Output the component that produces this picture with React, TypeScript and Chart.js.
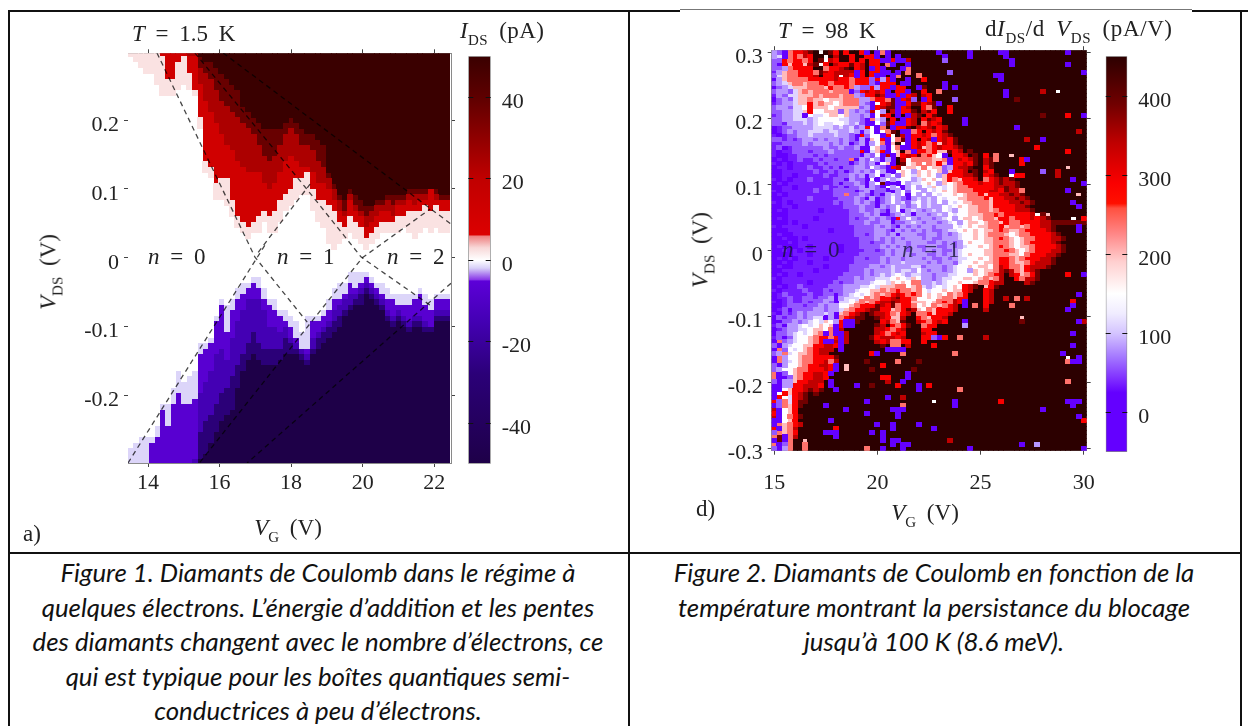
import React, { useEffect, useRef } from "react";
import { Chart, registerables } from "chart.js";

Chart.register(...registerables);

const SERIF = '"Liberation Serif", serif';
const INK = "#222222";
const FRAME = "#8a8a8a";

/* ---------- Figure 1: I_DS (pA), T = 1.5 K ---------- */
const leftVgStart = 13.5;
const leftVgStep = 0.15;
const leftVdsTop = 0.296;
const leftVdsStep = 0.008;
const leftRows = 75;
const leftXTicks = [14, 16, 18, 20, 22];
const leftYTicks = [-0.2, -0.1, 0, 0.1, 0.2];
const leftBarTicks = [-40, -20, 0, 20, 40];
const leftBarRange = [-50, 50];

// rows counted from the top, per gate-voltage column, where each current level ends
const upperLevels = [50, 38, 24, 12, 2.2];
const upperEdges = [
  [0,0,0,0,1],[0,0,0,0,2],[0,0,0,0,3],[0,0,0,0,4],[0,0,0,0,4],[0,0,0,0,6],[0,0,0,1,8],[0,0,0,5,8],[0,0,0,5,8],[0,0,0,2,7],
  [0,0,0,1,6],[0,0,1,4,7],[0,0,1,7,8],[1,3,6,12,14],[2,4,9,20,22],[2,5,11,21,23],[3,7,13,24,27],[4,9,15,23,27],[5,10,17,23,28],[6,11,18,27,30],
  [7,12,20,30,32],[10,13,21,31,33],[11,14,22,32,34],[12,15,22,31,33],[13,17,22,30,33],[14,19,24,29,31],[14,20,25,30,33],[14,19,24,29,33],[14,17,22,27,31],[13,15,20,26,29],
  [12,14,19,25,28],[13,15,20,23,27],[14,17,21,23,26],[15,17,21,22,26],[15,18,22,25,29],[16,20,24,27,31],[17,21,24,27,32],[22,23,25,28,35],[24,25,27,29,36],[26,27,29,31,35],
  [27,29,30,32,34],[25,26,27,30,33],[26,28,29,31,34],[27,29,30,32,35],[28,30,32,34,36],[28,29,31,33,35],[27,28,30,32,34],[27,28,29,31,33],[26,27,29,31,33],[26,28,30,31,33],
  [26,27,28,30,33],[26,27,28,30,32],[25,26,27,29,33],[25,26,28,29,34],[25,26,27,29,33],[25,26,27,28,32],[25,25,25,29,33],[25,26,27,28,32],[26,27,27,29,33],[26,27,27,29,33],
];
// rows counted from the bottom, per column
const lowerLevels = [-50, -28, -15, -7, -1.8];
const lowerEdges = [
  [0,0,0,0,3],[0,0,0,0,4],[0,0,0,0,5],[0,0,0,0,5],[0,0,0,4,5],[0,0,0,5,7],[0,0,0,10,11],[0,0,0,7,11],[0,0,0,11,14],[0,0,0,13,17],
  [0,0,0,11,15],[0,0,0,11,16],[0,0,1,12,17],[1,6,13,20,22],[2,8,15,21,22],[4,9,17,22,23],[6,11,20,26,27],[8,13,21,29,30],[9,14,19,24,29],[10,16,23,28,30],
  [14,18,26,30,32],[17,20,28,31,33],[19,22,30,32,33],[20,24,30,33,34],[19,22,30,32,34],[18,21,28,30,32],[18,21,25,29,30],[18,21,25,28,30],[19,21,24,27,28],[20,23,25,26,28],
  [20,22,23,25,27],[20,21,22,23,26],[19,20,21,21,24],[18,19,20,21,27],[20,21,23,26,27],[21,23,24,26,27],[22,24,25,27,28],[23,25,26,28,30],[24,26,28,30,32],[25,27,29,30,33],
  [27,28,30,31,33],[28,29,31,33,35],[29,30,31,32,35],[29,31,32,33,35],[31,32,33,34,35],[30,31,32,33,34],[29,30,31,32,33],[28,29,30,31,33],[26,27,28,30,32],[25,26,27,30,31],
  [26,27,28,29,31],[25,26,27,29,31],[24,25,26,29,31],[25,26,27,30,31],[25,26,27,31,32],[24,25,26,29,31],[24,25,25,28,30],[26,27,28,30,31],[26,27,28,30,31],[26,27,28,30,31],
];
const leftStops: [number, string][] = [
  [-50, "#1e0048"], [-28, "#2b0078"], [-15, "#4400b4"], [-5.2, "#5c00d8"], [-4.8, "#8a3ae8"], [-2, "#d8d0f8"],
  [0, "#ffffff"], [3, "#f8d8d8"], [5.8, "#ee8080"], [6.2, "#dc0000"], [20, "#c00000"], [40, "#5e0000"], [50, "#3a0000"],
];
// coulomb-diamond guide lines: [Vg, Vds, Vg, Vds, ...]
const diamondLines = [
  [14.25, 0.2975, 16.99, 0.001, 18.45, -0.0935],
  [13.44, -0.298, 17.3, 0.021],
  [17.08, 0.008, 18.53, 0.107],
  [15.31, 0.2975, 18.42, 0.101, 19.96, 0.001, 21.89, -0.069],
  [16.1, 0.2975, 22.47, 0.049],
  [22.47, -0.037, 16.77, -0.298],
  [15.45, -0.297, 19.99, 0, 21.89, 0.071],
];

/* ---------- Figure 2: dI/dV (pA/V), T = 98 K ---------- */
const rightVgStart = 15;
const rightVgStep = 0.25;
const rightVdsTop = 0.3;
const rightVdsStep = 0.006;
const rightXTicks = [15, 20, 25, 30];
const rightYTicks = [-0.3, -0.2, -0.1, 0, 0.1, 0.2, 0.3];
const rightBarTicks = [0, 100, 200, 300, 400];
const rightBarRange = [-50, 450];
const rightStops: [number, string][] = [
  [-50, "#6400ff"], [25, "#6400ff"], [40, "#7c28ff"], [70, "#a478ff"], [100, "#d4c4ff"], [125, "#f0ecff"], [150, "#ffffff"],
  [190, "#ffd0d0"], [225, "#ff8888"], [258, "#ff5040"], [264, "#ff1000"], [290, "#fa0000"], [340, "#c00000"], [390, "#700000"], [450, "#2c0000"],
];
const rightCellLevels: Record<string, number> = { P: 0, a: 35, b: 58, c: 82, e: 110, w: 148, p: 200, s: 238, r: 290, R: 340, d: 390, D: 450 };
const rightSegmentWidths = [13, 16, 12, 20];
// each row: columns 0-12, 13-28, 29-40, 41-60; a short segment repeats its last cell
const rightRows = [
  "cbPsrrRdDwDdr DrDDrPDPsPDDDDDD D D",
  "cePsrsRrDDwDR DDrDDrrPDPDPDDDD D D",
  "bbrsrrsrDdwRr DDrDrDrrPPrPPDDD D D",
  "bPrprrpRdwrDR rrdrRDrrDsPDDPDD D D",
  "bbcsrrrrDDsrr RdDrRDPrPDDDPsDD D D",
  "acpssrrrsdRrR RRRPrDrrPPDPDsDD D D",
  "bepssrrrRDrrR wRrPrDrPPDPsDDDs D D",
  "PcpssssrrrrrR rrsrrrbrcrPDDPDD rD D",
  "bcepsspssrrsr rrsrrrbPrrrDPPDD D D",
  "Pbcepppsssprs srscbbrcrrPrrDDP dD D",
  "bccbepspsssps ssPbrRrRrPDrrPDD rD D",
  "acbeepppspsss psscbrrdRPPrPrRD RrD D",
  "Pbcbeppsppwpp psssccsrrsdPrRdD PrD D",
  "abccepprpsppw pssscbPwrRdPPrdd rRdD D",
  "bccbeewrpppwp ppppbcPrRddPrRDD rsdD D",
  "bbcceeprwwppp bpcbcbRwcDRPrrdD RdrD D",
  "abcceePweewpp wpccbcPwRrDPDPRd DrdD D",
  "bbcceeecewwww eeccbPsecDrDPrRD rdRrD D",
  "bbaccceceweew wecebPPwbdrPPrRD sRrRD D",
  "Pabbcccceeeec ecebcrwPsDPrrdDR rRdrRD D",
  "Pabcbcceeecee ccecPcwPwsdDPPsr DrRrdD D",
  "aPabbccecccce ccbPrbwwPrwDRPrr RrsrRdD D",
  "bbababccbcbcc bcbPcPpwrPwsdPrD rRPrRrdD D",
  "aabbbbcbcccbc bcPbcPcwsPpDwPrR rsrpRrdD D",
  "abPabbbbbbcbb cbbcPPwpbPwsPPrR psrRrrRdD D",
  "aPaabbbabbbcb bbbbrPeprPwpDsPr rsrppdrRDdDD D",
  "aPPaabbbababb bbbbPcbwPRPprRrd srpwPDrrRDdD rDD",
  "PaPaabaababba bbsPcbwcPcPDRwss ssppsPrRrRdD RdD",
  "aPaPaaaaababb bbPbcbcPwpPDdwps wsprpPrrRrdD RdD",
  "PaaPaaabaabab PbbccbwcbPrRwppw swppbcrRRdDD rdD",
  "PPaaaaaabaaba bPbcbcbwcPPwpwcp wpwpbprrRDdD RrD",
  "PPaaPaaaaabaa bbcbcPcwPcwbpwep wpwcprrrRRdD rRdD",
  "aPaPaaabaaaab bPcbbPwPcwcewwce pwpwprsprrRD srRdRdD",
  "PaPaaaaaaaaab PbbcbPcwdPPPwcee wpwcpwpsrrrR rrRdRRdD",
  "PPaaPaaaaabaa bPbbcPcbPwcwPcwc wepwewpssrrr rrRRdRdD",
  "aPaaaaaabaaab bbbPbcPbbPPcwbww cwewpwpsssrr rRRrdRRdD",
  "PaPaaaaaaaaab bsbbcbPbPcecwPwc wcwewwpwpssr prrRRdRdD",
  "PPaaaaabaaaaa bbbcbPcPbcwcbPce cecwewwppsss rprrRRdRdD",
  "aPaPaaaaaaaab abbcbcbPbcwcebew cecwcwewppss sprrrRRdRdD",
  "PPaaPaaaaaaaa abbbcbbPcbcwcbcw ceccwewpwpps sprrrrRRdD",
  "PaPaaaaaaPaaa aabbcbbcbPcwPcec bcecwecwwpps spsrrrRRRdD",
  "PPPaaaaaaaaaa aabbbcbcPPbcecPc cbcecwewwppp ssrsrrrrrRRdD",
  "PaPaaaaaPaaaa aababbcbcbPrcwcb ccbcewcwppwp ssprrsrrrRrRdD",
  "PPPaPaaaaaaaa aabbbcbbccPbbcec bccbcewcwppw pssprssrrrrRRd",
  "aPaaaaPaaaaaa aaabbbbcbcbPcbcb ccbcccwewpwp pssrpsspsrrRRdD",
  "PPPaaaaaaaaPa aaabbbbccbPcbcbc bcbbceewpwpw ppsrsppsrrrrRdD",
  "PaPPaaaaaaaaa aaabbabccbcPcccb bccbcbcewwpw pssspwpssrrrrRdD",
  "PPaPPaPaaaaaa aaaabbbcbcbcbccc bcbbcccewwpw ppsrspwpssrrrRRdD",
  "PPPaPaaaaaaaa aaaabbabbcbccbcc cbbcbcbcwpww ppssspwpsrrrrRdD",
  "PaPPPaaPaaaaa Paaabbbbcbcbcbcb bccbbcbcewwp wpsrspwppsrrrrRdD",
  "PPaPaPaaaaaaa Paaaabbabcbccbcc bcbcbbcewwww ppssrspwpsrrrRRdD",
  "PPPPaaaPaaaaa aaaabbbbbcbcccbc cbbcbccewpww ppsssppwsrrrRRdD",
  "PaPaPaaaaaPaa aaabbabbcbccbccc bcbbcbceewwp wpsrrspsrrrRRdD",
  "PPaPaaaPaaaaa aaabbbbbcbcceccc cbcbccbewwpw ppsrrsppsrRRRdD",
  "PaPPaaaaaaPaa aabbbbccbcecccee bcccbcewwpwp pwsRrssprRRRdD",
  "PPaaaaaaPaaaa aabbbcbccceceecw cbccbcewwcpw ppsRdRsprRdD",
  "PaPaaPaaaaaaa abbbbcbcecewecee ccbcceewwwpw psrRDRrpsrdD",
  "aPaaaaaaaaaaa bbbcbcceeewpwepw ccbceewwppwp spsRDDrsRRdD",
  "PPaaaaaPaaaab abbcccewwepwpwss ccecewwpwwps srRRDDDDRdD",
  "PaPaabaaaaabb bccceewepppsswps ecewewpwrRdD prdD",
  "aPaaaabaaabab bccewwppspsrssps wewwpwpprRDD rRD",
  "PabaaaabaabbP bcewewpspsrRrsrs wpwpwspsrDDD rRD",
  "PaabaabbabbcP ceeewspsrrRdrrsw wpwpssprrDDD rRD",
  "aPabaababbcbc eewpspsrRRdRrrpp pwpsrsRrDDDD rRD",
  "PPabbbabbcbcc wwpsrrrdRrdsrrsw pwspsrRDDDDD rD",
  "PabPbbbbccbcc epsrrRddrrpsrdRp wsprrrRDDDDD RD",
  "aPbabcbcccecP psrRdDdRRrsprRDs srprrRDDDDDD D",
  "PbabbcbceewcP srRddDDdRrppRDDr sprrRDDDDDDD D",
  "PPbbcbcewepwc rrPdDDDDrRspdDDR rsrRrDDDDDDD D",
  "abPccewewpwpP rRPDDDDdRDrsrdDD srrDDDDDDDDD D",
  "PabcceewppwsP RDDDDDDRRrsrRDDD rrDDDDDDDDDD D",
  "PbbcewewpsssP PRDDDDDRrsrRrDDD RrrD D",
  "abPbewwpsrrsr PRDDDDdrRRRrRDDD rrD D",
  "PsbcewwpsrrrR PRDDDDDRrRDsrrDD rD D",
  "bPcewwpprrRRr PDDDDDDDdDDsDRDD D D",
  "PsbwewpsrRRRD PD D D",
  "bcsewppsrRRDD D D D",
  "Pscwwpssrrrrd D D D",
  "PscewpssrrRsR D D D",
  "bPcwwpsrrRRrd D D D",
  "bcwwpssrrrRrP D D D",
  "sPbwpsrrRRrPD D D D",
  "sPPbpsrrRRrDD D D D",
  "bPccprrRRRDDD D D D",
  "PPccrrRRRrDPD D D D",
  "PPwprrRdRdDDD D D D",
  "PwrprRdDdDDDD D D D",
  "PrwerRdDDDDDD D D D",
  "rbserddDDDDDD D D D",
  "PbsprdDDDDDDD D D D",
  "RPwprDDDDDDDD D D D",
  "rPwprDDDDDDDD D D D",
  "RPwsrdDDDDDDD D D D",
  "PPwprDDDDDDDD D D D",
  "PspsrRDDDDDDD D D D",
  "rPpsRDDDDDDDD D D D",
  "bspsrDDDDDDDD D D D",
  "sdPsRDDDDDDDD D D D",
  "PdPsDDpDDDDDD D D D",
  "sPbsDDsDDDDDD D D D",
  "bPcsDDsDDDDDD D D D",
];
// isolated noisy pixels: [column, row, level]
const rightSpeckles: [number, number, string][] = [
  [32,0,"P"],[38,0,"P"],[38,1,"P"],[33,1,"P"],[33,2,"b"],[26,2,"R"],[44,0,"P"],[45,0,"P"],[45,1,"P"],[46,2,"P"],[46,3,"P"],[57,0,"P"],[57,3,"P"],[60,5,"P"],[34,5,"b"],
  [43,6,"P"],[44,6,"P"],[44,7,"P"],[33,8,"P"],[33,9,"P"],[32,10,"s"],[35,9,"P"],[45,10,"P"],[45,11,"P"],[47,12,"d"],[52,10,"R"],[55,10,"w"],[27,12,"b"],[35,12,"b"],[32,13,"P"],[34,14,"r"],[34,15,"r"],
  [52,16,"d"],[57,16,"r"],[60,16,"P"],[37,17,"P"],[37,18,"P"],[47,19,"P"],[52,22,"P"],[49,22,"R"],[59,20,"R"],[51,24,"r"],[43,26,"s"],[43,27,"s"],[46,26,"p"],[48,27,"r"],[48,28,"r"],[49,27,"P"],[57,25,"r"],[57,29,"p"],
  [52,30,"b"],[46,30,"P"],[46,31,"w"],[47,31,"r"],[48,31,"r"],[55,30,"R"],[55,31,"R"],[58,32,"P"],[60,33,"P"],[57,35,"P"],[59,36,"p"],[58,38,"P"],[59,39,"P"],[58,42,"w"],[60,42,"r"],[59,44,"P"],[59,45,"P"],[51,41,"w"],[53,41,"p"],[48,35,"s"],[60,56,"P"],
  [10,67,"P"],[10,71,"P"],[10,73,"P"],[11,73,"P"],[12,63,"P"],[12,69,"P"],[14,68,"P"],[14,69,"P"],[12,79,"P"],[14,79,"p"],[14,80,"p"],[11,83,"P"],[12,85,"P"],[16,84,"P"],[10,89,"P"],[14,90,"P"],[18,88,"P"],[18,91,"P"],[23,90,"P"],[24,90,"P"],[24,91,"P"],[24,92,"P"],
  [25,87,"R"],[25,89,"s"],[25,90,"P"],[22,87,"P"],[26,81,"P"],[26,82,"P"],[25,83,"P"],[28,84,"P"],[28,85,"P"],[24,84,"r"],[21,82,"r"],[22,82,"r"],[22,83,"R"],[19,84,"d"],[11,93,"P"],[12,95,"r"],[10,96,"P"],[11,96,"P"],[12,96,"P"],[12,97,"P"],
  [20,94,"P"],[19,96,"P"],[21,96,"P"],[21,97,"P"],[21,98,"P"],[23,98,"P"],[24,98,"P"],[23,99,"P"],[23,94,"P"],[23,95,"P"],[21,100,"P"],[25,99,"P"],[25,100,"P"],[26,99,"P"],[18,100,"s"],[28,94,"P"],[22,75,"P"],[23,75,"P"],[24,75,"P"],[25,75,"P"],
  [23,73,"s"],[23,74,"s"],[25,76,"s"],[24,78,"s"],[20,76,"P"],[19,76,"r"],[18,78,"d"],[19,80,"d"],[21,79,"r"],[31,72,"b"],[32,72,"P"],[31,74,"r"],[33,72,"r"],[37,63,"P"],[37,64,"P"],[39,64,"s"],[37,69,"c"],[37,68,"P"],[36,72,"s"],[35,76,"s"],[41,72,"R"],
  [47,62,"s"],[46,64,"s"],[45,62,"R"],[48,67,"p"],[48,68,"d"],[49,62,"R"],[57,56,"r"],[58,63,"r"],[58,64,"P"],[57,65,"P"],[59,61,"P"],[59,68,"P"],[60,68,"R"],[58,71,"P"],[58,74,"P"],[56,76,"P"],[57,77,"w"],[57,78,"s"],[58,78,"P"],[59,77,"P"],[59,78,"P"],[57,83,"s"],
  [57,88,"P"],[58,88,"P"],[59,88,"P"],[58,89,"P"],[59,92,"P"],[60,93,"r"],[52,90,"P"],[44,88,"r"],[36,85,"s"],[31,88,"w"],[30,84,"r"],[35,88,"P"],[35,89,"P"],[28,78,"d"],[27,80,"d"],[31,95,"P"],[34,98,"R"],[38,100,"P"],[48,99,"P"],[51,99,"c"],[60,100,"P"],
];

/* ---------- text ---------- */
const caption1 = [
  "Figure 1. Diamants de Coulomb dans le régime à",
  "quelques électrons. L’énergie d’addition et les pentes",
  "des diamants changent avec le nombre d’électrons, ce",
  "qui est typique pour les boîtes quantiques semi-",
  "conductrices à peu d’électrons.",
];
const caption2 = [
  "Figure 2. Diamants de Coulomb en fonction de la",
  "température montrant la persistance du blocage",
  "jusqu’à 100 K (8.6 meV).",
];

/* ---------- helpers ---------- */
const hexToRgb = (h: string) => [1, 3, 5].map((i) => parseInt(h.slice(i, i + 2), 16));
function colorAt(stops: [number, string][], v: number) {
  if (v <= stops[0][0]) return stops[0][1];
  for (let i = 1; i < stops.length; i++) {
    if (v <= stops[i][0]) {
      const [a, ca] = stops[i - 1];
      const [b, cb] = stops[i];
      const t = (v - a) / (b - a);
      const A = hexToRgb(ca);
      const B = hexToRgb(cb);
      return `rgb(${A.map((c, k) => Math.round(c + (B[k] - c) * t)).join(",")})`;
    }
  }
  return stops[stops.length - 1][1];
}
function cellImage(color: string, w: number, h: number) {
  const c = document.createElement("canvas");
  c.width = w;
  c.height = h;
  const g = c.getContext("2d")!;
  g.fillStyle = color;
  g.fillRect(0, 0, w, h);
  return c;
}
function cellDatasets(cells: { x: number; y: number; v: number }[], stops: [number, string][], w: number, h: number) {
  const groups = new Map<number, { x: number; y: number }[]>();
  for (const { x, y, v } of cells) {
    if (!groups.has(v)) groups.set(v, []);
    groups.get(v)!.push({ x, y });
  }
  return [...groups.entries()].map(([v, data]) => ({
    type: "scatter" as const,
    data,
    pointStyle: cellImage(colorAt(stops, v), w, h),
    pointRadius: 4,
    pointHoverRadius: 4,
    showLine: false,
  }));
}
function leftCells() {
  const cells: { x: number; y: number; v: number }[] = [];
  upperEdges.forEach((up, c) => {
    const low = lowerEdges[c];
    for (let r = 0; r < leftRows; r++) {
      const fromBottom = leftRows - 1 - r;
      let v = 0;
      const a = up.findIndex((edge) => r < edge);
      const b = low.findIndex((edge) => fromBottom < edge);
      if (a >= 0) v = upperLevels[a];
      else if (b >= 0) v = lowerLevels[b];
      cells.push({ x: leftVgStart + c * leftVgStep, y: leftVdsTop - r * leftVdsStep, v });
    }
  });
  return cells;
}
function rightCells() {
  const grid = rightRows.map((row) => {
    const segs = row.split(" ");
    return rightSegmentWidths
      .map((w, i) => {
        const s = segs[i] ?? "D";
        return s.slice(0, w).padEnd(w, s[s.length - 1]);
      })
      .join("")
      .split("");
  });
  rightSpeckles.forEach(([c, r, l]) => {
    grid[r][c] = l;
  });
  const cells: { x: number; y: number; v: number }[] = [];
  grid.forEach((row, r) =>
    row.forEach((l, c) =>
      cells.push({ x: rightVgStart + c * rightVgStep, y: rightVdsTop - r * rightVdsStep, v: rightCellLevels[l] })
    )
  );
  return cells;
}
function setTicks(values: number[]) {
  return (s: any) => {
    s.ticks = values.map((value) => ({ value }));
  };
}
function axis(position: string, min: number, max: number, ticks: number[], size: number, font: number, labels: boolean, labelOffset = 0, pad = 4, fmt?: (v: number) => string) {
  const horizontal = position === "top" || position === "bottom";
  return {
    type: "linear" as const,
    position,
    min,
    max,
    afterBuildTicks: setTicks(ticks),
    afterFit: (s: any) => {
      if (horizontal) s.height = size;
      else s.width = size;
    },
    border: { color: FRAME, width: 1 },
    grid: { drawOnChartArea: false, drawTicks: true, tickLength: 4, tickColor: "#444", tickWidth: 1 },
    ticks: {
      display: labels,
      color: INK,
      padding: pad,
      labelOffset,
      maxRotation: 0,
      autoSkip: false,
      font: { family: SERIF, size: font },
      callback: (v: any) => (fmt ? fmt(Number(v)) : String(v)),
    },
  };
}
function useChart(build: (canvas: HTMLCanvasElement) => Chart) {
  const ref = useRef<HTMLCanvasElement>(null);
  useEffect(() => {
    const chart = build(ref.current!);
    return () => chart.destroy();
  }, []);
  return ref;
}

type Box = { left: number; top: number; width: number; height: number };
function plotChart(canvas: HTMLCanvasElement, box: Box, area: { l: number; t: number; r: number; b: number }, datasets: any[], xr: number[], yr: number[], xt: number[], yt: number[], xPad: number, yPad: number, yOffset: number) {
  return new Chart(canvas, {
    type: "scatter",
    data: { datasets },
    options: {
      responsive: false,
      animation: false,
      events: [],
      parsing: false,
      normalized: true,
      layout: { padding: { left: 0, top: 0, right: box.left + box.width - area.r - 4, bottom: 0 } },
      plugins: { legend: { display: false }, tooltip: { enabled: false } },
      scales: {
        x: axis("bottom", xr[0], xr[1], xt, box.top + box.height - area.b, 22, true, 0, xPad),
        x2: axis("top", xr[0], xr[1], xt, area.t - box.top, 22, false),
        y: axis("left", yr[0], yr[1], yt, area.l - box.left, 22, true, yOffset, yPad, (v) => (Math.abs(v) < 1e-9 ? "0" : String(Number(v.toFixed(1))))),
        y2: axis("right", yr[0], yr[1], yt, 4, 22, false),
      },
    } as any,
  });
}
// short black marks just inside both edges of a colour bar, at the axis' own tick values
const barMarks = {
  id: "barMarks",
  afterDatasetsDraw(chart: any) {
    const { ctx, chartArea: a, scales } = chart;
    ctx.save();
    ctx.strokeStyle = "#111";
    ctx.lineWidth = 1;
    scales.y.ticks.forEach((t: any) => {
      const y = Math.round(scales.y.getPixelForValue(t.value)) + 0.5;
      ctx.beginPath();
      ctx.moveTo(a.left, y);
      ctx.lineTo(a.left + 5, y);
      ctx.moveTo(a.right - 5, y);
      ctx.lineTo(a.right, y);
      ctx.stroke();
    });
    ctx.restore();
  },
};
function barChart(canvas: HTMLCanvasElement, box: Box, area: { l: number; t: number; r: number; b: number }, range: number[], ticks: number[], stops: [number, string][]) {
  const gradient = (ctx: any) => {
    const a = ctx.chart.chartArea;
    if (!a) return stops[0][1];
    const g = ctx.chart.ctx.createLinearGradient(0, a.bottom, 0, a.top);
    stops.forEach(([v, c]) => g.addColorStop((v - range[0]) / (range[1] - range[0]), c));
    return g;
  };
  return new Chart(canvas, {
    type: "bar",
    data: {
      labels: [""],
      datasets: [{ data: [[range[0], range[1]]], backgroundColor: gradient, barPercentage: 1, categoryPercentage: 1, borderWidth: 1, borderColor: FRAME, borderSkipped: false }],
    },
    plugins: [barMarks],
    options: {
      responsive: false,
      animation: false,
      events: [],
      layout: { padding: { left: area.l - box.left, top: area.t - box.top, bottom: box.top + box.height - area.b, right: 0 } },
      plugins: { legend: { display: false }, tooltip: { enabled: false } },
      scales: {
        x: { display: false },
        y: {
          position: "right",
          min: range[0],
          max: range[1],
          afterBuildTicks: setTicks(ticks),
          afterFit: (s: any) => {
            s.width = box.left + box.width - area.r;
          },
          border: { display: false },
          grid: { display: false },
          ticks: { color: INK, padding: 3, labelOffset: 5, font: { family: SERIF, size: 22 }, callback: (v: any) => String(v) },
        },
      },
    } as any,
  });
}

const boxStyle = (b: Box): React.CSSProperties => ({ position: "absolute", left: b.left, top: b.top, width: b.width, height: b.height, filter: "blur(0.45px)" });
const leftBox: Box = { left: 60, top: 20, width: 420, height: 500 };
const leftArea = { l: 128, t: 53.3, r: 451, b: 463 };
const leftBarBox: Box = { left: 460, top: 40, width: 110, height: 440 };
const leftBarArea = { l: 468.3, t: 53.3, r: 490.7, b: 463.7 };
const rightBox: Box = { left: 700, top: 20, width: 410, height: 490 };
const rightArea = { l: 771.7, t: 50.2, r: 1088.3, b: 450.7 };
const rightBarBox: Box = { left: 1098, top: 40, width: 110, height: 430 };
const rightBarArea = { l: 1105.7, t: 50.7, r: 1127.3, b: 452 };

const Sub = ({ children }: { children: string }) => (
  <span style={{ fontSize: 15, fontStyle: "normal", position: "relative", top: 7 }}>{children}</span>
);
const I = ({ children }: { children: string }) => <span style={{ fontStyle: "italic" }}>{children}</span>;
function Text({ x, y, children, rotate, color = INK, size = 23, anchor = "left", spacing = 0 }: any) {
  const tx = anchor === "center" || rotate ? "-50%" : "0";
  return (
    <div
      style={{
        position: "absolute",
        left: x,
        top: y,
        transform: `translate(${tx},-50%)${rotate ? ` rotate(${rotate}deg)` : ""}`,
        fontFamily: SERIF,
        fontSize: size,
        color,
        whiteSpace: "nowrap",
        wordSpacing: 5,
        letterSpacing: spacing,
        lineHeight: 1,
      }}
    >
      {children}
    </div>
  );
}
const Line = ({ x, y, w, h, c = "#111" }: any) => <div style={{ position: "absolute", left: x, top: y, width: w, height: h, background: c }} />;
function Caption({ lines, center }: { lines: string[]; center: number }) {
  return (
    <>
      {lines.map((t, i) => (
        <div
          key={i}
          style={{
            position: "absolute",
            left: center - 310,
            width: 620,
            top: 572 + i * 34.6 - 17,
            textAlign: "center",
            fontFamily: "Lato, 'Open Sans', sans-serif",
            fontStyle: "italic",
            fontSize: 25.8,
            lineHeight: "34px",
            color: "#111",
            whiteSpace: "nowrap",
          }}
        >
          {t}
        </div>
      ))}
    </>
  );
}

export default function App() {
  const leftRef = useChart((cv) => {
    const lines = diamondLines.map((l) => {
      const data = [];
      for (let i = 0; i < l.length; i += 2) data.push({ x: l[i], y: l[i + 1] });
      return { type: "line" as const, data, showLine: true, borderColor: "rgba(0,0,0,0.72)", borderWidth: 1.3, borderDash: [5, 4], pointRadius: 0, fill: false };
    });
    return plotChart(cv, leftBox, leftArea, [...lines, ...cellDatasets(leftCells(), leftStops, 6, 6)], [13.44, 22.47], [-0.298, 0.297], leftXTicks, leftYTicks, 3, 5, 5);
  });
  const leftBarRef = useChart((cv) => barChart(cv, leftBarBox, leftBarArea, leftBarRange, leftBarTicks, leftStops));
  const rightRef = useChart((cv) =>
    plotChart(cv, rightBox, rightArea, cellDatasets(rightCells(), rightStops, 6, 5), [14.875, 30.14], [-0.303, 0.303], rightXTicks, rightYTicks, 15, 5, 5)
  );
  const rightBarRef = useChart((cv) => barChart(cv, rightBarBox, rightBarArea, rightBarRange, rightBarTicks, rightStops));

  return (
    <div style={{ position: "fixed", left: 0, top: 0, width: 1248, height: 726, background: "#fff", overflow: "hidden" }}>
      <Line x={8} y={10} w={672} h={1.5} />
      <Line x={1192} y={10} w={56} h={1.5} />
      <Line x={680} y={9} w={512} h={1} c="#777" />
      <Line x={8} y={10} w={1.5} h={716} />
      <Line x={628} y={10} w={1.5} h={716} />
      <Line x={1240} y={10} w={1.5} h={716} />
      <Line x={8} y={552} w={1233} h={1.5} />

      <canvas ref={leftRef} width={leftBox.width} height={leftBox.height} style={boxStyle(leftBox)} />
      <canvas ref={leftBarRef} width={leftBarBox.width} height={leftBarBox.height} style={boxStyle(leftBarBox)} />
      <canvas ref={rightRef} width={rightBox.width} height={rightBox.height} style={boxStyle(rightBox)} />
      <canvas ref={rightBarRef} width={rightBarBox.width} height={rightBarBox.height} style={boxStyle(rightBarBox)} />

      <Text x={132} y={33}><I>T</I> = 1.5 K</Text>
      <Text x={460} y={30} spacing={0.4}><I>I</I><Sub>DS</Sub> (pA)</Text>
      <Text x={148} y={256}><I>n</I> = 0</Text>
      <Text x={277} y={256}><I>n</I> = 1</Text>
      <Text x={387} y={256}><I>n</I> = 2</Text>
      <Text x={48} y={272} rotate={-90}><I>V</I><Sub>DS</Sub> (V)</Text>
      <Text x={288} y={527} anchor="center"><I>V</I><Sub>G</Sub> (V)</Text>
      <Text x={23} y={533}>a)</Text>

      <Text x={778} y={30}><I>T</I> = 98 K</Text>
      <Text x={985} y={28} spacing={0.6}>d<I>I</I><Sub>DS</Sub>/d <I>V</I><Sub>DS</Sub> (pA/V)</Text>
      <Text x={782} y={249} color="rgba(20,20,50,0.8)"><I>n</I> = 0</Text>
      <Text x={902} y={249} color="rgba(20,20,50,0.8)"><I>n</I> = 1</Text>
      <Text x={700} y={250} rotate={-90}><I>V</I><Sub>DS</Sub> (V)</Text>
      <Text x={925} y={512} anchor="center"><I>V</I><Sub>G</Sub> (V)</Text>
      <Text x={696} y={508}>d)</Text>

      <Caption lines={caption1} center={318} />
      <Caption lines={caption2} center={934} />
    </div>
  );
}
